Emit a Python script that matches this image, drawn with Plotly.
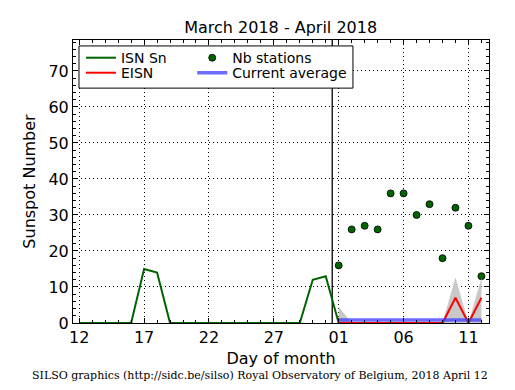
import plotly.graph_objects as go

# ---------------- data ----------------
isn_dates = ["2018-03-%02d" % d for d in range(12, 32)] + ["2018-04-01"]
isn_values = [0, 0, 0, 0, 0, 15, 14, 0, 0, 0, 0, 0, 0, 0, 0, 0, 0, 0, 12, 13, 0]

cur_dates = ["2018-04-%02d" % d for d in range(1, 13)]
nb_stations = [16, 26, 27, 26, 36, 36, 30, 33, 18, 32, 27, 13]
eisn_values = [0, 0, 0, 0, 0, 0, 0, 0, 0, 7, 0, 7]
eisn_upper = [4.5, 0, 0, 0, 0, 0, 0, 0, 0, 12.7, 0, 12.5]
eisn_lower = [0, 0, 0, 0, 0, 0, 0, 0, 0, 0, 0, 0]
current_average = [0.8] * 12

month_boundary = "2018-03-31 12:00"
tick_dates = ["2018-03-12", "2018-03-17", "2018-03-22", "2018-03-27",
              "2018-04-01", "2018-04-06", "2018-04-11"]
tick_labels = ["12", "17", "22", "27", "01", "06", "11"]

title_text = "March 2018 - April 2018"
footer_text = "SILSO graphics (http://sidc.be/silso) Royal Observatory of Belgium, 2018 April 12"

FONT = "DejaVu Sans"

fig = go.Figure()

fig.add_trace(go.Scatter(x=isn_dates, y=isn_values, mode="lines", name="ISN Sn",
                         line=dict(color="#006400", width=2), legend="legend"))
fig.add_trace(go.Scatter(x=cur_dates, y=nb_stations, mode="markers", name="Nb stations",
                         marker=dict(color="#006400", size=7,
                                     line=dict(color="black", width=0.8)),
                         legend="legend3"))

# error band
fig.add_trace(go.Scatter(x=cur_dates, y=eisn_lower, mode="lines",
                         line=dict(width=0, color="rgba(0,0,0,0)"),
                         showlegend=False, hoverinfo="skip"))
fig.add_trace(go.Scatter(x=cur_dates, y=eisn_upper, mode="lines",
                         line=dict(width=0, color="rgba(0,0,0,0)"),
                         fill="tonexty", fillcolor="rgba(200,200,200,1)",
                         showlegend=False, hoverinfo="skip"))

fig.add_trace(go.Scatter(x=cur_dates, y=eisn_values, mode="lines", name="EISN",
                         line=dict(color="red", width=2), legend="legend2"))
fig.add_trace(go.Scatter(x=cur_dates, y=current_average, mode="lines", name="Current average",
                         line=dict(color="rgba(60,60,255,0.75)", width=3.5),
                         legend="legend4"))

fig.add_shape(type="line", xref="x", yref="paper", x0=month_boundary, x1=month_boundary,
              y0=0, y1=1, line=dict(color="black", width=1.3), layer="below")

# legend frame (two-column legend)
fig.add_shape(type="rect", xref="paper", yref="paper", x0=0.0144, x1=0.673,
              y0=0.830, y1=0.979, line=dict(color="black", width=1),
              fillcolor="white", layer="above")

fig.add_annotation(text=footer_text, xref="paper", yref="paper", x=0.45, y=-0.187,
                   xanchor="center", yanchor="middle", showarrow=False,
                   font=dict(family="DejaVu Serif", size=11, color="black"))

axis_common = dict(showline=True, linecolor="black", linewidth=1, mirror="allticks",
                   ticks="inside", ticklen=5, tickcolor="black", tickwidth=1,
                   showgrid=True, gridcolor="black", gridwidth=1, griddash="1px,3px",
                   zeroline=False, automargin=False,
                   tickfont=dict(family=FONT, size=16, color="black"))

fig.update_xaxes(**axis_common, range=["2018-03-11 12:30", "2018-04-12 14:00"],
                 tickvals=tick_dates, ticktext=tick_labels,
                 minor=dict(ticks="inside", ticklen=3, tickcolor="black", dtick=86400000,
                            tick0="2018-03-12", showgrid=False),
                 title=dict(text="Day of month", font=dict(family=FONT, size=16, color="black"),
                            standoff=6))
fig.update_yaxes(**axis_common, range=[0, 78.6], dtick=10,
                 minor=dict(ticks="inside", ticklen=3, tickcolor="black", dtick=2,
                            showgrid=False),
                 title=dict(text="Sunspot Number", font=dict(family=FONT, size=16, color="black"),
                            standoff=8))

leg_common = dict(orientation="v", yanchor="middle", xanchor="left",
                  borderwidth=0, bgcolor="rgba(0,0,0,0)", itemwidth=30,
                  font=dict(family=FONT, size=14, color="black"), traceorder="normal",
                  tracegroupgap=0)

row1, row2 = 0.936, 0.883
col1, col2 = 0.0192, 0.2866

fig.update_layout(
    width=515, height=390,
    margin=dict(l=73, r=26, t=40, b=67),
    paper_bgcolor="white", plot_bgcolor="white",
    title=dict(text=title_text, x=0.545, xanchor="center", y=0.93, yanchor="middle",
               font=dict(family=FONT, size=16, color="black")),
    legend=dict(**leg_common, x=col1, y=row1),
    legend2=dict(**leg_common, x=col1, y=row2),
    legend3=dict(**leg_common, x=col2, y=row1),
    legend4=dict(**leg_common, x=col2, y=row2),
    showlegend=True,
)

fig.write_html("out.html", config={"displayModeBar": False},
               post_script="document.body.style.margin='0px';")
